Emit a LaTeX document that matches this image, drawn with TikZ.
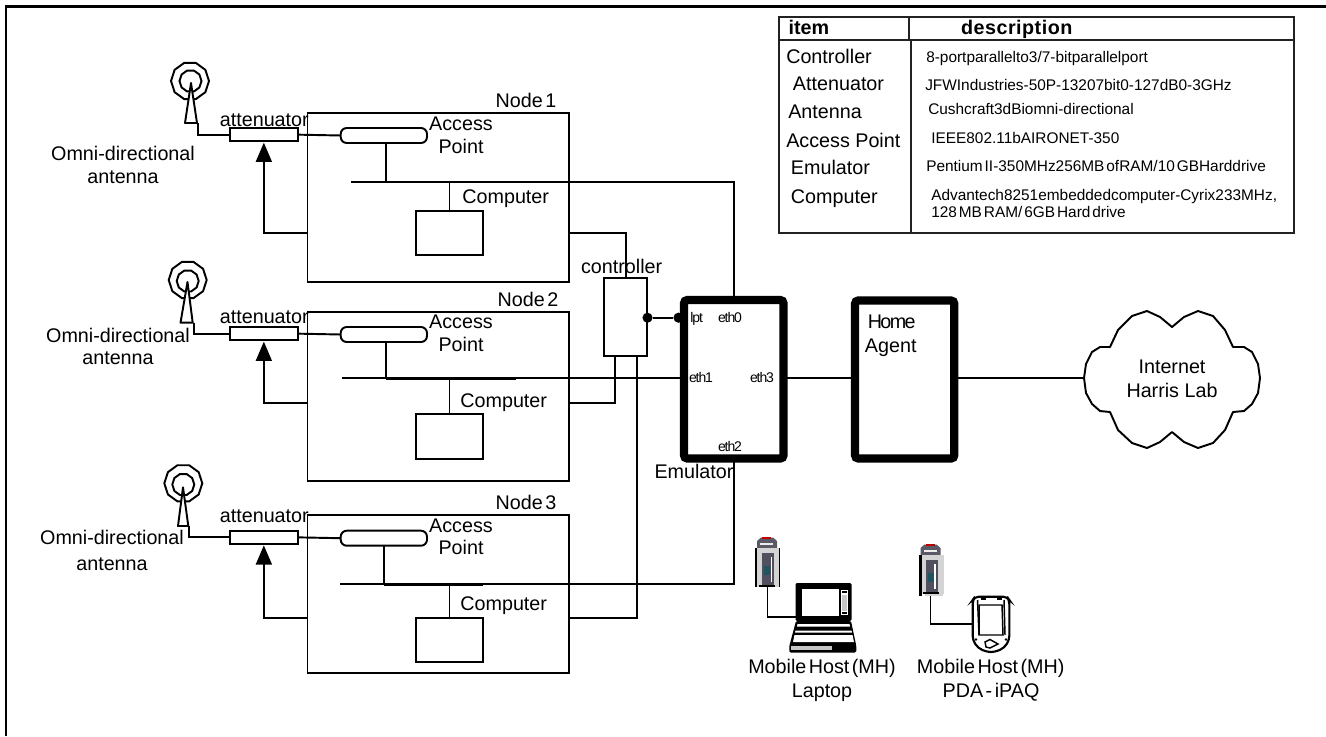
\documentclass[tikz,border=0pt]{standalone}
\usepackage{fontspec}
\setmainfont{Liberation Sans}
\newfontfamily\tightf[LetterSpace=-8]{Liberation Sans}
\newfontfamily\wordf[WordSpace=0.45]{Liberation Sans}
\newfontfamily\wideb[LetterSpace=2.5]{Liberation Sans Bold}
\usetikzlibrary{arrows.meta,shapes.geometric}
\definecolor{devpanel}{HTML}{50505F}
\definecolor{devcap}{HTML}{5A5A66}
\definecolor{devbody}{HTML}{D4D4D4}
\definecolor{devteal}{HTML}{1F5560}
\definecolor{tblline}{HTML}{222222}
\tikzset{
  wire/.style={line width=1.45pt,line join=miter},
  rectshape/.style={draw,line width=1.45pt,inner sep=0,outer sep=0,rectangle},
  thickbox/.style={draw,line width=6.2pt,rounded corners=2.5pt,inner sep=0,outer sep=0,rectangle,fill=white},
  whitebox/.style={rectshape,fill=white},
  apbox/.style={rectshape,fill=white,rounded corners=4.5pt},
  lbl/.style={inner sep=0,font=\fontsize{14.8}{17}\selectfont,text height=10.5pt,text depth=1pt},
  mlbl/.style={inner sep=0,align=center,font=\fontsize{14.8}{#1}\selectfont},
  wlbl/.style={inner sep=0,font=\wordf\fontsize{14.8}{17}\selectfont,text height=10.5pt,text depth=1pt},
  desc/.style={inner sep=0,anchor=west,font=\wordf\fontsize{11.55}{12}\selectfont,text height=8.4pt,text depth=1.4pt},
  tlbl/.style={inner sep=0,anchor=west,font=\fontsize{14.8}{17}\selectfont,text height=10.5pt,text depth=1pt},
  eth/.style={inner sep=0,font=\tightf\fontsize{10.5}{12}\selectfont,text height=7.6pt,text depth=.8pt},
  ring/.style={draw,line width=1.45pt,regular polygon,regular polygon sides=10,inner sep=0,outer sep=0,minimum size=#1},
  pindot/.style={circle,fill=black,inner sep=0,minimum size=7.6pt},
  ctlarrow/.style={wire,-{Triangle[length=14.5pt,width=12pt]},shorten >=1pt},
}
% name, x1, y1, x2, y2, style (pixel coordinates)
\newcommand\rectnode[6]{%
  \pgfmathsetmacro\rcx{(#2+#4)/2}\pgfmathsetmacro\rcy{(#3+#5)/2}%
  \pgfmathsetmacro\rcw{abs(#4-#2)*0.75}\pgfmathsetmacro\rch{abs(#5-#3)*0.75}%
  \node[#6,minimum width=\rcw pt,minimum height=\rch pt] (#1) at (\rcx,\rcy) {};}
% one wireless node: id, node top, node bottom, ap top, bus y, bus x start, ap stem x, computer top, computer bottom
\newcommand\wnode[9]{%
  \rectnode{node#1}{307.5}{#2}{569}{#3}{rectshape}
  \rectnode{ap#1}{340.7}{#4}{427}{#4+15}{apbox}
  \rectnode{cmp#1}{416}{#8}{483}{#9}{rectshape}
  \coordinate (bus#1) at (#6,#5);
  \coordinate (stem#1) at (#7,#4+15);
  \draw[wire] (stem#1) -- (stem#1 |- bus#1);
  \draw[wire] (cmp#1.north) -- (cmp#1.north |- bus#1);
}
% mobile host radio card at an offset
\newcommand\mhcard[3]{%
  \begin{scope}[shift={(#2,#3)}]
    \fill[devcap] (757,548) -- (757,541) -- (761,537.5) -- (773,537.5) -- (777,541) -- (777,548) -- cycle;
    \fill[red!75!black] (762,537) rectangle (771,539);
    \fill[white!85!gray] (760,542.5) rectangle (773,545);
    \node[fill=devbody,inner sep=0,outer sep=0,minimum width=18.75pt,minimum height=29.25pt] (#1) at (767.5,567.5) {};
    \fill[black] (755,548) rectangle (756.5,587);
    \fill[devpanel] (762,553) rectangle (774,585);
    \fill[white] (770.6,557) rectangle (772.2,582);
    \fill[devteal] (764,566) rectangle (770,575);
    \fill[black] (759,585.3) rectangle (775,587);
  \end{scope}}
\begin{document}
\begin{tikzpicture}[x=0.75pt,y=-0.75pt]
\useasboundingbox (0,0) rectangle (1326,736);
\fill[white] (0,0) rectangle (1326,736);
% outer frame
\draw[line width=1.6pt] (6,736) -- (6,6.5) -- (1326,6.5);

% wireless nodes
\wnode{1}{112.7}{282}{128}{181.7}{350.7}{385.7}{210.7}{255}
\wnode{2}{311.7}{481}{327}{378.3}{342}{385.7}{414}{459.3}
\wnode{3}{515}{673}{530.7}{584.3}{340}{383.7}{618}{662}
\draw[line width=1.9pt] (stem2 |- bus2) -- (516,378.3);
\draw[line width=1.9pt] (stem3 |- bus3) -- (483,584.3);

% antennas
\node[ring=28.5pt] (outer1) at (190,81) {};
\node[ring=16.5pt] (inner1) at (190.5,81) {};
\node[ring=28.5pt] (outer2) at (187.7,280) {};
\node[ring=16.5pt] (inner2) at (187.7,281) {};
\node[ring=28.5pt] (outer3) at (183.3,483.3) {};
\node[ring=16.5pt] (inner3) at (183.3,484.5) {};
\draw[wire,fill=white,line join=round] (191,83) -- (185,123) -- (197,123) -- cycle;
\draw[wire,fill=white,line join=round] (187.5,282) -- (180.5,322.7) -- (192.7,322.7) -- cycle;
\draw[wire,fill=white,line join=round] (183,487.3) -- (178,526) -- (188.3,526) -- cycle;

% attenuators
\rectnode{att1}{230}{128}{297.7}{141.3}{whitebox}
\rectnode{att2}{230}{327}{297.7}{340.3}{whitebox}
\rectnode{att3}{230}{530.7}{297.7}{544}{whitebox}
\coordinate (lead1) at (197.7,123);
\coordinate (lead2) at (194,322.7);
\coordinate (lead3) at (189,526);
\draw[wire] (lead1) |- (att1.west);
\draw[wire] (lead2) |- (att2.west);
\draw[wire] (lead3) |- (att3.west);
\draw[wire] (att1.east) -- (ap1.west);
\draw[wire] (att2.east) -- (ap2.west);
\draw[wire] (att3.east) -- (ap3.west);

% attenuator control
\coordinate (nl1) at (307.5,233.3);
\coordinate (nl2) at (307.5,403.3);
\coordinate (nl3) at (307.5,618);
\draw[ctlarrow] (nl1) -| (att1.south);
\draw[ctlarrow] (nl2) -| (att2.south);
\draw[ctlarrow] (nl3) -| (att3.south);

% emulator, home agent, controller
\rectnode{ctl}{604}{277.7}{647}{356}{rectshape}
\rectnode{emu}{684}{300}{783.5}{458.5}{thickbox}
\rectnode{agent}{855}{300.5}{954.3}{458.5}{thickbox}

% ethernet wires
\draw[wire] (bus1) -| (emu.north);
\draw[wire] (bus2) -- (emu.west |- bus2);
\draw[wire] (bus3) -| (emu.south);
\draw[wire] (emu.east |- bus2) -- (agent.west |- bus2);

% controller wires
\coordinate (nr1) at (569,233);
\coordinate (nr2) at (569,403.3);
\coordinate (nr3) at (569,618);
\coordinate (ctlb2) at (615,356);
\coordinate (ctlb3) at (636.7,356);
\draw[wire] (nr1) -| (625.7,277.7) coordinate (ctlt);
\draw[wire] (nr2) -| (ctlb2);
\draw[wire] (nr3) -| (ctlb3);
\node[pindot] (dotc) at (647.5,317.7) {};
\node[pindot] (dote) at (678.5,317.7) {};
\draw[wire] (dotc) -- (dote);

% cloud
\draw[line width=1.45pt,line join=round] (1172,327) -- (1160,317) -- (1147,311) -- (1132,316) -- (1118,330) -- (1110,347) -- (1100,347) -- (1092,352) -- (1086,364) -- (1084,378) -- (1086,393) -- (1092,404) -- (1100,411) -- (1110,412) -- (1118,430) -- (1132,443) -- (1147,448) -- (1160,442) -- (1172,432) -- (1184,442) -- (1198,448) -- (1213,443) -- (1225,430) -- (1233,412) -- (1244,411) -- (1252,404) -- (1258,393) -- (1260,378) -- (1258,364) -- (1252,352) -- (1244,347) -- (1233,347) -- (1225,330) -- (1213,316) -- (1198,311) -- (1184,317) -- cycle;
\coordinate (cloudin) at (1084,378);
\draw[wire] (agent.east |- bus2) -- (cloudin |- bus2);
\node[mlbl=18pt] (cloudtxt) at (1172,379) {Internet\\Harris Lab};

% mobile hosts
\mhcard{card1}{0}{0}
\fill[black] (778.8,548) rectangle (780,587);
\mhcard{card2}{163.5}{7}
\fill[black] (919,555) rectangle (921.5,595.7);
\fill[devbody] (925,594) rectangle (943,595.7);
\coordinate (lapin) at (796,617.3);
\coordinate (pdain) at (972.7,624.3);
\draw[wire] (card1.south |- 0,587) |- (lapin);
\draw[wire] (930.5,595.7) coordinate (card2b) |- (pdain);

% laptop
\fill[black,rounded corners=1pt] (795.5,583) rectangle (851.5,621);
\fill[white] (802,589.3) rectangle (839.3,616);
\fill[white] (841,590) rectangle (847.5,615);
\fill[black] (842,590.5) rectangle (846.5,593);
\fill[gray!45] (841.5,594.5) rectangle (847,610.5);
\fill[black] (842,612) rectangle (846.5,614);
\fill[black,line join=round,rounded corners=1pt] (796,621) -- (851,621) -- (856.3,646) -- (856.3,652.5) -- (789.3,652.5) -- (789.3,646) -- cycle;
\fill[white] (797.5,624) -- (849.5,624) -- (850,626.5) -- (797,626.5) -- cycle;
\fill[white] (795.5,630.5) -- (851.5,630.5) -- (852,632.5) -- (795,632.5) -- cycle;
\fill[white] (794.5,635) -- (852.5,635) -- (854,642) -- (793,642) -- cycle;
\fill[gray!45] (790.7,646) rectangle (831.7,650);

% PDA
\draw[line width=1.6pt,rounded corners=3pt] (972.7,600) -- (975,596.7) -- (1007,596.7) -- (1009.3,600) -- (1009.3,640) -- (1004,648) -- (995,652) -- (987,652) -- (978,648) -- (972.7,640) -- cycle;
\draw[line width=1.1pt] (979,605) -- (1002,605) -- (1003,635) -- (979,635) -- cycle;
\draw[line width=1.1pt] (977.5,600) -- (979,635);
\draw[line width=1.1pt] (1004,600) -- (1005,635);
\fill[black] (981,598) rectangle (985.5,600);
\fill[black] (997,598) rectangle (1001.5,600);
\draw[line width=1.1pt,fill=white] (985,642) -- (990,639.5) -- (998,644) -- (990,648) -- (986,647) -- cycle;
\fill[black] (976,639.5) circle (1pt);
\fill[black] (1006,639.5) circle (1pt);

% labels: wireless nodes
\node[wlbl] (ln1) at (526,101) {Node 1};
\node[wlbl] (ln2) at (528,300) {Node 2};
\node[wlbl] (ln3) at (526,502.7) {Node 3};
\node[mlbl=17.6pt] (lap1) at (461,135.5) {Access\\Point};
\node[mlbl=17pt] (lap2) at (461,333.5) {Access\\Point};
\node[mlbl=16.5pt] (lap3) at (461,537) {Access\\Point};
\node[lbl] (lc1) at (505.7,197) {Computer};
\node[lbl] (lc2) at (503.7,401) {Computer};
\node[lbl] (lc3) at (503.7,604) {Computer};
\node[lbl] (lat1) at (264.3,120) {attenuator};
\node[lbl] (lat2) at (264.3,316.7) {attenuator};
\node[lbl] (lat3) at (264.3,516) {attenuator};
\node[mlbl=17.2pt] (lo1) at (123,164.5) {Omni-directional\\antenna};
\node[mlbl=16.5pt] (lo2) at (118,346) {Omni-directional\\antenna};
\node[mlbl=19.5pt] (lo3) at (112,550) {Omni-directional\\antenna};
\node[lbl] (lctl) at (621.7,266.7) {controller};
\node[lbl] (lemu) at (694,472) {Emulator};
\node[eth] (lpt) at (696.7,318) {lpt};
\node[eth] (e0) at (730,318) {eth0};
\node[eth] (e1) at (701,378) {eth1};
\node[eth] (e3) at (762,378) {eth3};
\node[eth] (e2) at (730,446.7) {eth2};
\node[lbl,font=\tightf\fontsize{14.8}{17}\selectfont] (lhome) at (891.7,322) {Home};
\node[lbl] (lagent) at (890.7,345.7) {Agent};
\node[wlbl] (lm1) at (822,667) {Mobile Host (MH)};
\node[lbl] (lm1b) at (822,691) {Laptop};
\node[wlbl] (lm2) at (990.7,667) {Mobile Host (MH)};
\node[wlbl] (lm2b) at (991,691) {PDA - iPAQ};

% table
\rectnode{tbl}{779}{16.7}{1294}{233}{rectshape,draw=tblline}
\draw[line width=1.45pt,tblline] (779,40) -- (1294,40);
\draw[line width=1.45pt,tblline] (909,16.7) -- (909,40) -- (911,40) -- (911,233);
\node[tlbl,font=\bfseries\fontsize{14.8}{17}\selectfont] (thi) at (788.3,27.7) {item};
\node[lbl,font=\wideb\fontsize{14.8}{17}\selectfont] (thd) at (1016.7,27.7) {description};
\node[tlbl] (t1) at (786,56.7) {Controller};
\node[tlbl] (t2) at (792.7,84) {Attenuator};
\node[tlbl] (t3) at (788,112.3) {Antenna};
\node[tlbl] (t4) at (786,140.7) {Access Point};
\node[tlbl] (t5) at (790.7,168.3) {Emulator};
\node[tlbl] (t6) at (790.7,197) {Computer};
\node[desc] (d1) at (926,57.5) {8-portparallelto3/7-bitparallelport};
\node[desc] (d2) at (925,85.7) {JFWIndustries-50P-13207bit0-127dB0-3GHz};
\node[desc] (d3) at (928,110) {Cushcraft3dBiomni-directional};
\node[desc] (d4) at (931,139) {IEEE802.11bAIRONET-350};
\node[desc] (d5) at (926,167) {Pentium II-350MHz256MB ofRAM/10 GBHarddrive};
\node[desc] (d6) at (931,196) {Advantech8251embeddedcomputer-Cyrix233MHz,};
\node[desc] (d7) at (931,212.5) {128 MB RAM/ 6GB Hard drive};
\end{tikzpicture}
\end{document}
